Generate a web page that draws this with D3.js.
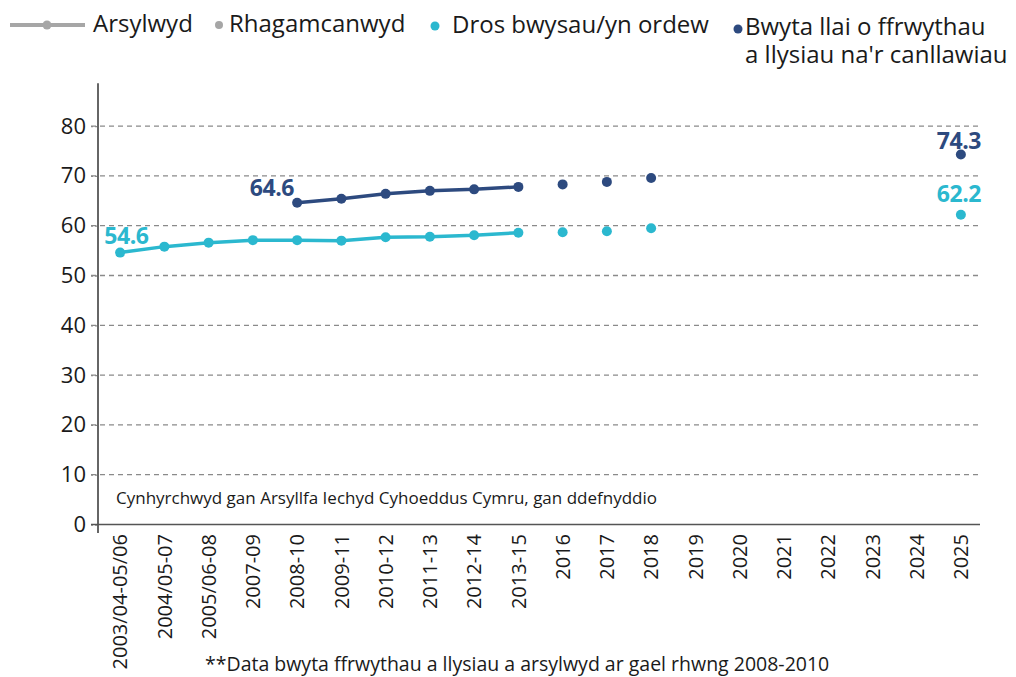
<!DOCTYPE html>
<html>
<head>
<meta charset="utf-8">
<script src="https://cdn.jsdelivr.net/npm/d3@7"></script>
<style>
  html, body { margin: 0; padding: 0; background: #fff; }
  svg { display: block; font-family: "Open Sans", "Noto Sans", sans-serif; }
</style>
</head>
<body>
<svg id="chart" width="1016" height="677"></svg>
<script>
const categories = ["2003/04-05/06","2004/05-07","2005/06-08","2007-09","2008-10","2009-11","2010-12","2011-13","2012-14","2013-15","2016","2017","2018","2019","2020","2021","2022","2023","2024","2025"];
const lastObserved = "2013-15";
const overweight = [54.6,55.8,56.6,57.1,57.1,57.0,57.7,57.8,58.1,58.6,58.7,58.9,59.5,null,null,null,null,null,null,62.2];
const fruitVeg   = [null,null,null,null,64.6,65.4,66.4,67.0,67.3,67.8,68.3,68.8,69.6,null,null,null,null,null,null,74.3];
const yTicks = [0,10,20,30,40,50,60,70,80];
const legendLabels = ["Arsylwyd","Rhagamcanwyd","Dros bwysau/yn ordew","Bwyta llai o ffrwythau","a llysiau na'r canllawiau"];
const sourceText = "Cynhyrchwyd gan Arsyllfa Iechyd Cyhoeddus Cymru, gan ddefnyddio";
const footnote = "**Data bwyta ffrwythau a llysiau a arsylwyd ar gael rhwng 2008-2010";

const cyan = "#2bb8cf", navy = "#2d4a7f", grey = "#a6a6a6", textCol = "#1a1a1a";

const svg = d3.select("#chart");
const x = d3.scalePoint().domain(categories).range([98, 983]).padding(0.5);
const y = d3.scaleLinear().domain([0, 88.6]).range([524.5, 83.3]);

// gridlines
svg.append("g").selectAll("line").data(yTicks.filter(d => d > 0)).join("line")
  .attr("x1", 91).attr("x2", 978)
  .attr("y1", d => y(d)).attr("y2", d => y(d))
  .attr("stroke", "#8a8a8a").attr("stroke-width", 1.3).attr("stroke-dasharray", "5,4");

// y axis
const yAxis = svg.append("g").attr("transform", "translate(98,0)")
  .call(d3.axisLeft(y).tickValues(yTicks).tickSize(7).tickPadding(5).tickFormat(d3.format("d")));
yAxis.select(".domain").remove();
yAxis.selectAll(".tick line").attr("stroke", "#8a8a8a").attr("stroke-width", 1.3).attr("stroke-dasharray", "3,2");
yAxis.selectAll(".tick text").attr("font-size", 22).attr("fill", textCol).attr("font-family", "Open Sans");
svg.append("line").attr("x1", 98).attr("x2", 98).attr("y1", 83.3).attr("y2", 533)
  .attr("stroke", "#666").attr("stroke-width", 2);
// x axis
svg.append("line").attr("x1", 91).attr("x2", 980).attr("y1", y(0)).attr("y2", y(0))
  .attr("stroke", "#555").attr("stroke-width", 1.6);

// x labels
svg.append("g").selectAll("text").data(categories).join("text")
  .attr("transform", d => `translate(${x(d)},534) rotate(-90)`)
  .attr("text-anchor", "end").attr("dy", "0.36em")
  .attr("font-size", 20).attr("fill", textCol).text(d => d);

// series
function drawSeries(vals, color) {
  const pts = categories.map((c, i) => ({c, i, v: vals[i]})).filter(d => d.v != null);
  const obsIdx = categories.indexOf(lastObserved);
  const obs = pts.filter(d => d.i <= obsIdx);
  const line = d3.line().x(d => x(d.c)).y(d => y(d.v));
  svg.append("path").datum(obs).attr("d", line).attr("fill", "none")
    .attr("stroke", color).attr("stroke-width", 3.5).attr("stroke-linejoin", "round");
  svg.append("g").selectAll("circle").data(pts).join("circle")
    .attr("cx", d => x(d.c)).attr("cy", d => y(d.v)).attr("r", 5).attr("fill", color);
  return pts;
}
const ow = drawSeries(overweight, cyan);
const fv = drawSeries(fruitVeg, navy);

// data labels
function label(pt, color, dx, dy, anchor) {
  svg.append("text").attr("x", x(pt.c) + dx).attr("y", y(pt.v) + dy)
    .attr("text-anchor", anchor).attr("font-size", 23).attr("font-weight", 700)
    .attr("letter-spacing", -0.4).attr("fill", color).text(pt.v.toFixed(1));
}
label(ow[0], cyan, -16, -9, "start");
label(ow[ow.length - 1], cyan, -2, -13, "middle");
label(fv[0], navy, -3, -7, "end");
label(fv[fv.length - 1], navy, -2, -6, "middle");

// source text
svg.append("text").attr("x", 116).attr("y", 504).attr("font-size", 17).attr("fill", textCol).text(sourceText);
// footnote
svg.append("text").attr("x", 205).attr("y", 671).attr("font-size", 19.5).attr("fill", textCol).text(footnote);

// legend
const lg = svg.append("g");
const lfs = 24;
lg.append("line").attr("x1", 10).attr("x2", 85).attr("y1", 25).attr("y2", 25).attr("stroke", grey).attr("stroke-width", 4);
lg.append("circle").attr("cx", 47).attr("cy", 25).attr("r", 4.5).attr("fill", grey);
lg.append("text").attr("x", 93).attr("y", 32).attr("font-size", lfs).attr("fill", textCol).text(legendLabels[0]);
lg.append("circle").attr("cx", 219).attr("cy", 25).attr("r", 4).attr("fill", grey);
lg.append("text").attr("x", 229).attr("y", 32).attr("font-size", lfs).attr("fill", textCol).text(legendLabels[1]);
lg.append("circle").attr("cx", 435).attr("cy", 26).attr("r", 4.5).attr("fill", cyan);
lg.append("text").attr("x", 452).attr("y", 33).attr("font-size", lfs).attr("fill", textCol).text(legendLabels[2]);
lg.append("circle").attr("cx", 738).attr("cy", 29).attr("r", 4.5).attr("fill", navy);
const two = lg.append("text").attr("font-size", lfs).attr("fill", textCol);
two.append("tspan").attr("x", 745).attr("y", 35).text(legendLabels[3]);
two.append("tspan").attr("x", 745).attr("y", 63).text(legendLabels[4]);
</script>
</body>
</html>
